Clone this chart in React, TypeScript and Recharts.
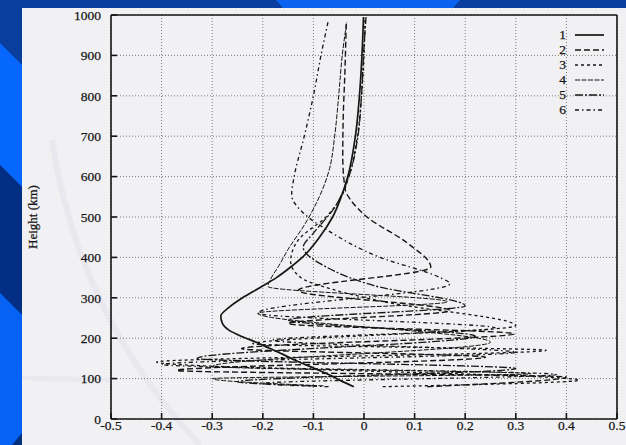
import React from 'react';
import { LineChart, Line, XAxis, YAxis, CartesianGrid } from 'recharts';

// ---- data (height km, perturbation value) ----
const heightTicks = [0, 100, 200, 300, 400, 500, 600, 700, 800, 900, 1000];
const valueTicks = [-0.5, -0.4, -0.3, -0.2, -0.1, 0, 0.1, 0.2, 0.3, 0.4, 0.5];
const seriesNames = ['1', '2', '3', '4', '5', '6'];

const profile1: [number, number][] = [
  [80, -0.02], [95, -0.046], [110, -0.07], [129, -0.105], [145, -0.135], [160, -0.16], [175, -0.187],
  [190, -0.213], [205, -0.243], [220, -0.267], [237, -0.28], [255, -0.283], [275, -0.268], [300, -0.24],
  [325, -0.206], [350, -0.173], [375, -0.146], [400, -0.122], [450, -0.088], [500, -0.062], [550, -0.045],
  [600, -0.032], [700, -0.017], [800, -0.009], [900, -0.004], [995, -0.001],
];
const profile2: [number, number][] = [
  [80, 0.125], [104, 0.4], [120, -0.37], [153, 0.24], [174, -0.242], [211, 0.297], [236, -0.15],
  [268, 0.17], [318, -0.13], [376, 0.132], [436, 0.085], [500, 0.006], [540, -0.025], [567, -0.037],
  [650, -0.042], [750, -0.041], [850, -0.038], [983, -0.035],
];
const profile3: [number, number][] = [
  [80, 0.037], [96, 0.425], [141, -0.41], [170, 0.36], [186, -0.22], [231, 0.3], [290, 0.04], [320, -0.06],
  [350, -0.125], [390, -0.145], [443, -0.13], [500, -0.075], [550, -0.045], [600, -0.03], [700, -0.013],
  [800, -0.005], [900, 0.0], [990, 0.002],
];
const profile4: [number, number][] = [
  [82, -0.08], [100, -0.3], [112, 0.33], [130, -0.3], [190, 0.25], [262, -0.21], [290, 0.165], [328, -0.19],
  [345, -0.185], [380, -0.168], [420, -0.15], [480, -0.118], [540, -0.092], [620, -0.068], [700, -0.058],
  [800, -0.05], [900, -0.043], [983, -0.034],
];
const profile5: [number, number][] = [
  [82, -0.1], [92, -0.25], [125, 0.3], [150, -0.33], [205, 0.22], [245, -0.15], [280, 0.2], [330, 0.02],
  [380, -0.08], [425, -0.12], [460, -0.1], [520, -0.06], [600, -0.03], [700, -0.012], [800, -0.005],
  [900, -0.001], [995, 0.004],
];
const profile6: [number, number][] = [
  [80, -0.07], [88, -0.2], [110, 0.38], [135, -0.4], [165, 0.3], [195, -0.18], [225, 0.26], [262, -0.21],
  [335, 0.17], [350, 0.15], [401, 0.03], [468, -0.073], [510, -0.12], [555, -0.143], [600, -0.138],
  [700, -0.118], [800, -0.1], [900, -0.085], [983, -0.071],
];

const profiles = [profile1, profile2, profile3, profile4, profile5, profile6];

// ---- styles ----
const lineStyles = [
  { dash: undefined as string | undefined, width: 1.7 },
  { dash: '6 3', width: 1.4 },
  { dash: '3 3', width: 1.3 },
  { dash: '5 1.5', width: 1.0 },
  { dash: '8 2 2 2', width: 1.3 },
  { dash: '4 3 1.5 3', width: 1.3 },
];
const ink = '#161616';
const serif = '"Liberation Serif", "DejaVu Serif", serif';
const fontSize = 13.5;
const textStyle = { fontFamily: serif, fontSize, fill: ink, stroke: ink, strokeWidth: 0.25 };

const toRows = (p: [number, number][]) => p.map(([h, v]) => ({ h, v }));

const fmtValue = (v: number) => (Math.abs(v) < 1e-9 ? '0' : v.toFixed(1));

function Background() {
  return (
    <svg width={626} height={445} style={{ position: 'absolute', left: 0, top: 0 }}>
      <rect x={0} y={0} width={626} height={445} fill="#0a3e9e" />
      <polygon points="276,0 460,0 453,8 283,8" fill="#0a62ee" />
      <polygon points="0,43 22,65 22,187 0,165" fill="#0567fb" />
      <polygon points="0,165 22,187 22,315 0,293" fill="#022e84" />
      <polygon points="0,293 22,315 22,445 0,445" fill="#0562f4" />
      <polygon points="12,445 22,433 22,445" fill="#06317f" />
      <rect x={22} y={8} width={604} height={437} fill="#f1f1f4" />
      <path d="M 52 140 C 70 260, 120 360, 200 445" stroke="#e2e2ea" strokeWidth={6} fill="none" opacity={0.6} />
      <path d="M 22 378 L 110 380" stroke="#e4e4ec" strokeWidth={5} fill="none" opacity={0.6} />
    </svg>
  );
}

function LegendBox() {
  return (
    <svg width={626} height={445} style={{ position: 'absolute', left: 0, top: 0, pointerEvents: 'none' }}>
      {seriesNames.map((name, i) => {
        const y = 35 + i * 15;
        return (
          <g key={name}>
            <text x={566} y={y + 4} textAnchor="end" fontFamily={serif} fontSize={fontSize} fill={ink}
              stroke={ink} strokeWidth={0.25}>
              {name}
            </text>
            <line x1={575} x2={604} y1={y} y2={y} stroke={ink} strokeWidth={lineStyles[i].width}
              strokeDasharray={lineStyles[i].dash} />
          </g>
        );
      })}
    </svg>
  );
}

export default function App() {
  return (
    <div style={{ position: 'absolute', left: 0, top: 0, width: 626, height: 445, overflow: 'hidden' }}>
      <Background />
      <div style={{ position: 'absolute', left: 0, top: 0 }}>
        <LineChart layout="vertical" width={626} height={445} margin={{ top: 14, right: 8, bottom: 6, left: 20 }}>
          <CartesianGrid stroke="#7a7a7a" strokeDasharray="1 2" strokeWidth={1}
            horizontalValues={heightTicks} verticalValues={valueTicks} />
          <XAxis type="number" dataKey="v" domain={[-0.5, 0.5]} ticks={valueTicks} allowDataOverflow
            tickFormatter={fmtValue} height={20} tickSize={-6} tickMargin={7}
            axisLine={{ stroke: ink, strokeWidth: 1.6 }} tickLine={{ stroke: ink, strokeWidth: 1.6 }}
            tick={textStyle} interval={0} />
          <XAxis xAxisId="top" orientation="top" type="number" domain={[-0.5, 0.5]} ticks={valueTicks}
            allowDataOverflow height={1} tickSize={-6} tick={false}
            axisLine={{ stroke: ink, strokeWidth: 1.6 }} tickLine={{ stroke: ink, strokeWidth: 1.6 }} interval={0} />
          <YAxis type="number" dataKey="h" domain={[0, 1000]} ticks={heightTicks} allowDataOverflow reversed
            width={91} tickSize={-6} tickMargin={16} interval={0}
            axisLine={{ stroke: ink, strokeWidth: 1.6 }} tickLine={{ stroke: ink, strokeWidth: 1.6 }}
            tick={textStyle}
            label={{ value: 'Height (km)', angle: -90, position: 'insideLeft', offset: 12,
              style: { ...textStyle, fontSize: 13, textAnchor: 'middle' } }} />
          <YAxis yAxisId="right" orientation="right" type="number" domain={[0, 1000]} ticks={heightTicks}
            allowDataOverflow reversed width={1} tickSize={-6} tick={false} interval={0}
            axisLine={{ stroke: ink, strokeWidth: 1.6 }} tickLine={{ stroke: ink, strokeWidth: 1.6 }} />
          {profiles.map((p, i) => (
            <Line key={seriesNames[i]} name={seriesNames[i]} data={toRows(p)} dataKey="v" type="monotone"
              stroke={ink} strokeWidth={lineStyles[i].width} strokeDasharray={lineStyles[i].dash}
              dot={false} activeDot={false} isAnimationActive={false} />
          ))}
        </LineChart>
      </div>
      <LegendBox />
    </div>
  );
}
